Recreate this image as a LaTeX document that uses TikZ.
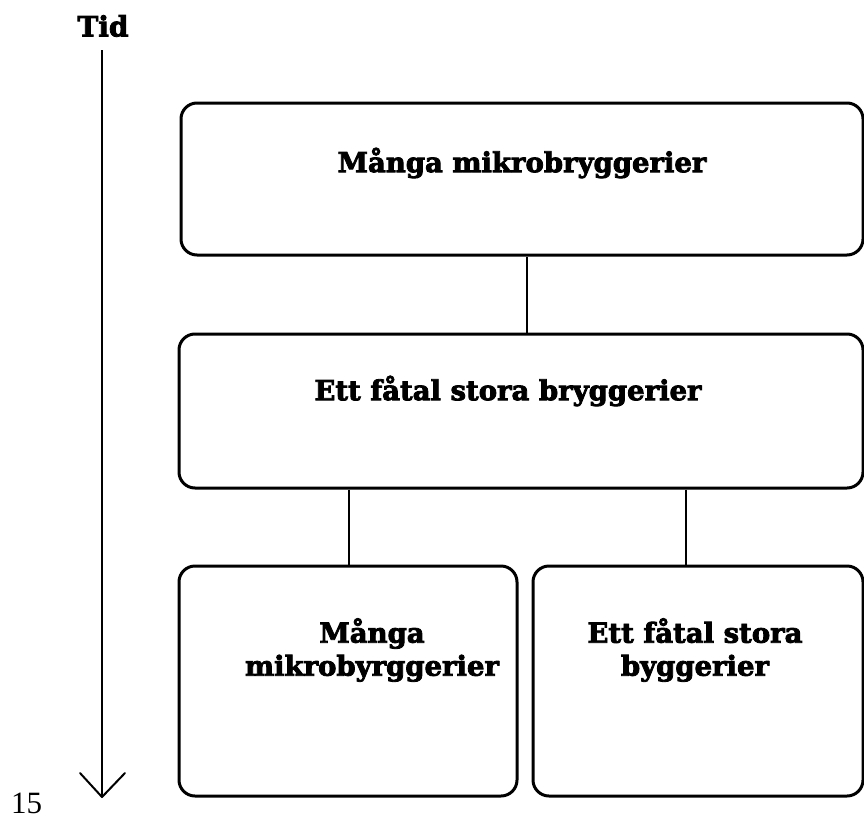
\documentclass[tikz,border=0pt]{standalone}
\usepackage{fontspec}
\newfontfamily\coop[FakeBold=3]{DejaVu Serif Bold}
\newfontfamily\numfont{Liberation Serif}
\begin{document}
\begin{tikzpicture}[x=1pt,y=-1pt,
  boxst/.style={draw=black,line width=3pt,rounded corners=16pt,inner sep=0pt},
  lbl/.style={font=\coop\fontsize{27.5}{33}\selectfont,align=center,inner sep=0pt},
  conn/.style={line width=1.6pt}]
\useasboundingbox (0,0) rectangle (864,819);
% time axis
\node[font=\coop\fontsize{28}{30}\selectfont,inner sep=0pt] (tid) at (103,26) {Tid};
\coordinate (tstart) at (102,50);
\coordinate (tend) at (102,797);
\draw[line width=2pt] (tstart) -- (tend);
\draw[line width=2pt,line cap=round,line join=round] ([shift={(-22,-24)}]tend) -- (tend) -- ([shift={(23,-24)}]tend);
\node[font=\numfont\fontsize{31}{34}\selectfont,anchor=base west,inner sep=0pt] (num) at (11,813) {15};
% boxes
\node[boxst,minimum width=682pt,minimum height=152pt] (b1) at (522,179) {};
\node[boxst,minimum width=684pt,minimum height=154pt] (b2) at (521,411) {};
\node[boxst,minimum width=338pt,minimum height=230pt] (b3) at (348,681) {};
\node[boxst,minimum width=330pt,minimum height=230pt] (b4) at (698,681) {};
% texts
\node[lbl] (t1) at (522,163) {Många mikrobryggerier};
\node[lbl] (t2) at (508,391) {Ett fåtal stora bryggerier};
\node[lbl] (t3) at (372,650) {Många\\mikrobyrggerier};
\node[lbl] (t4) at (695,650) {Ett fåtal stora\\byggerier};
% connectors
\draw[conn] ([xshift=5pt]b1.south) -- ([xshift=6pt]b2.north);
\draw[conn] ([xshift=-172pt]b2.south) -- ([xshift=1pt]b3.north);
\draw[conn] ([xshift=165pt]b2.south) -- ([xshift=-12pt]b4.north);
\end{tikzpicture}
\end{document}
